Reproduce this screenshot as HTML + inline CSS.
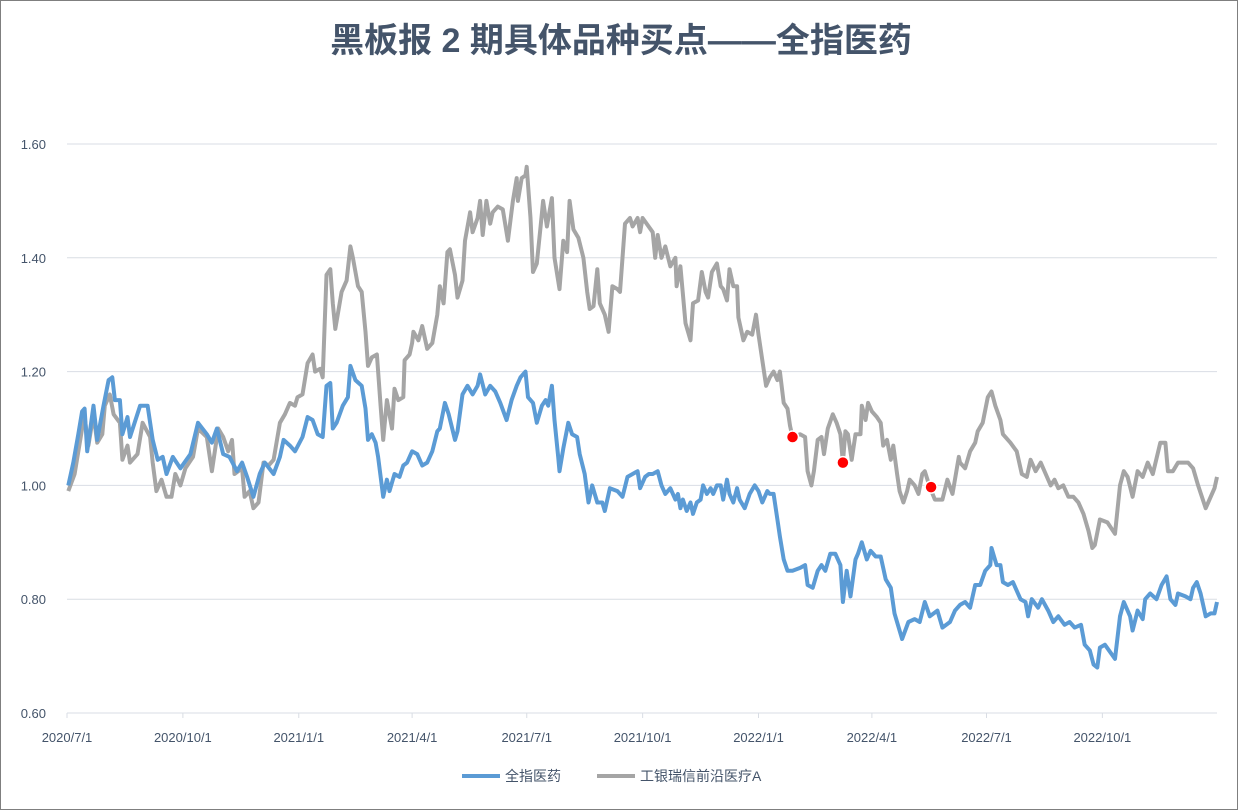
<!DOCTYPE html>
<html><head><meta charset="utf-8">
<style>
html,body{margin:0;padding:0;background:#fff;}
#wrap{position:relative;width:1238px;height:810px;overflow:hidden;}
svg text{font-family:"Liberation Sans","Noto Sans CJK SC",sans-serif;}
</style></head>
<body>
<div id="wrap">
<svg id="chart" width="1238" height="810" viewBox="0 0 1238 810">
<rect x="0.5" y="0.5" width="1237" height="809" fill="#fff" stroke="#7f7f7f" stroke-width="1"/>
<text x="621" y="52" text-anchor="middle" font-size="34" fill="#44546a" font-weight="bold">黑板报 2 期具体品种买点——全指医药</text>
<g id="grid"></g>
<g id="yaxis"></g>
<g id="xaxis"></g>
<g id="series"></g>
<g id="legend">
<line x1="462" y1="776" x2="500" y2="776" stroke="#5b9bd5" stroke-width="4"/>
<text x="505" y="781" font-size="14" fill="#44546a">全指医药</text>
<line x1="597" y1="776" x2="635" y2="776" stroke="#a5a5a5" stroke-width="4"/>
<text x="640" y="781" font-size="14" fill="#44546a">工银瑞信前沿医疗A</text>
</g>
</svg>
</div>
<script>
const yTicks=[0.6,0.8,1.0,1.2,1.4,1.6];
const yTickLabels=["0.60","0.80","1.00","1.20","1.40","1.60"];
const xTickDays=[0,92,184,274,365,457,549,639,730,822];
const xTickLabels=["2020/7/1","2020/10/1","2021/1/1","2021/4/1","2021/7/1","2021/10/1","2022/1/1","2022/4/1","2022/7/1","2022/10/1"];
const indexDays=[1,5,9,12,14,16,21,24,29,33,36,38,42,44,48,50,58,64,68,72,76,79,84,90,98,104,111,115,119,124,129,135,139,143,148,153,157,164,169,172,177,181,187,191,195,199,203,206,209,211,214,219,223,225,229,234,237,239,242,245,247,251,254,256,260,264,267,270,274,278,282,286,290,294,296,300,303,308,310,314,318,322,326,328,332,336,340,344,349,353,357,360,364,366,370,373,377,380,382,385,387,390,391,394,398,401,405,407,411,414,417,421,425,427,431,437,441,445,449,453,455,459,462,465,469,472,475,479,483,485,487,489,492,495,497,500,503,505,508,511,513,516,519,521,524,526,529,532,534,538,542,546,549,552,556,558,561,564,566,569,572,576,582,586,588,592,596,599,602,606,610,614,616,619,622,626,628,631,635,638,642,646,650,654,657,663,668,673,677,681,685,691,695,701,705,709,713,717,721,725,729,733,734,738,741,743,747,751,757,761,763,766,771,774,779,783,787,792,796,800,805,808,812,815,818,820,824,832,836,839,844,846,850,854,856,860,865,869,873,876,880,882,888,892,894,897,900,904,908,911,913];
const indexVals=[1.00,1.04,1.09,1.13,1.135,1.06,1.14,1.08,1.14,1.185,1.19,1.15,1.15,1.09,1.12,1.085,1.14,1.14,1.08,1.045,1.05,1.02,1.05,1.03,1.055,1.11,1.09,1.075,1.10,1.055,1.05,1.025,1.04,1.015,0.98,1.02,1.04,1.02,1.05,1.08,1.07,1.06,1.085,1.12,1.115,1.09,1.085,1.175,1.18,1.10,1.11,1.14,1.155,1.21,1.185,1.175,1.135,1.08,1.09,1.075,1.05,0.98,1.01,0.99,1.02,1.015,1.035,1.04,1.06,1.055,1.035,1.04,1.06,1.095,1.10,1.145,1.125,1.08,1.095,1.16,1.175,1.16,1.175,1.195,1.16,1.175,1.165,1.145,1.115,1.15,1.175,1.19,1.20,1.155,1.145,1.11,1.14,1.15,1.14,1.175,1.115,1.05,1.025,1.065,1.11,1.09,1.085,1.055,1.02,0.97,1.00,0.97,0.97,0.955,0.995,0.99,0.98,1.015,1.02,1.025,0.995,1.015,1.02,1.02,1.025,1.00,0.985,0.995,0.975,0.985,0.96,0.975,0.955,0.97,0.95,0.97,0.975,1.00,0.985,0.995,0.985,1.00,1.00,0.975,1.01,0.985,0.97,0.995,0.975,0.96,0.985,1.00,0.99,0.97,0.99,0.985,0.985,0.94,0.91,0.87,0.85,0.85,0.855,0.86,0.825,0.82,0.85,0.86,0.85,0.88,0.88,0.86,0.795,0.85,0.805,0.87,0.88,0.90,0.87,0.885,0.875,0.875,0.835,0.82,0.775,0.73,0.76,0.765,0.76,0.795,0.77,0.78,0.75,0.76,0.78,0.79,0.795,0.785,0.825,0.825,0.85,0.86,0.89,0.86,0.86,0.83,0.825,0.83,0.80,0.795,0.77,0.80,0.785,0.80,0.78,0.76,0.77,0.755,0.76,0.75,0.755,0.72,0.71,0.685,0.68,0.715,0.72,0.695,0.77,0.795,0.77,0.745,0.78,0.765,0.80,0.81,0.80,0.825,0.84,0.80,0.79,0.81,0.805,0.80,0.82,0.83,0.81,0.77,0.775,0.775,0.795];
const fundDays=[1,6,12,14,17,21,24,28,30,34,37,42,44,48,50,56,60,66,68,71,75,79,83,86,90,94,100,104,111,115,120,124,128,131,133,139,141,145,148,152,156,160,164,169,173,177,181,183,187,191,195,197,201,203,206,209,211,213,218,222,225,227,231,234,237,239,242,246,249,251,254,258,260,263,267,268,272,274,275,279,282,286,290,294,296,299,302,304,308,310,314,316,320,322,326,328,330,333,336,338,342,346,350,354,357,358,361,364,365,368,370,373,376,378,381,385,387,391,394,397,399,402,406,410,413,415,418,421,423,427,430,433,437,439,441,443,447,449,453,455,457,465,467,469,472,475,479,483,484,487,491,495,497,501,504,507,509,512,516,519,521,524,526,529,532,533,537,540,544,547,549,552,555,558,561,564,566,569,572,574,576,582,586,588,591,593,596,599,601,604,608,611,614,616,618,620,623,626,630,631,634,636,639,643,646,648,651,654,656,659,661,664,667,669,673,676,679,681,685,689,695,699,703,708,709,713,717,721,723,727,731,734,737,741,743,749,754,758,762,765,769,773,777,781,784,787,791,795,799,803,807,811,814,816,820,826,832,836,839,842,846,850,854,858,862,868,872,874,878,882,886,890,894,898,904,908,911,913];
const fundVals=[0.99,1.02,1.10,1.12,1.07,1.125,1.075,1.09,1.14,1.16,1.125,1.11,1.045,1.07,1.04,1.055,1.11,1.085,1.04,0.99,1.01,0.98,0.98,1.02,1.00,1.03,1.05,1.10,1.085,1.025,1.10,1.085,1.06,1.08,1.02,1.03,0.98,0.99,0.96,0.97,1.04,1.035,1.045,1.11,1.125,1.145,1.14,1.155,1.16,1.215,1.23,1.20,1.205,1.19,1.37,1.38,1.32,1.275,1.34,1.36,1.42,1.40,1.35,1.34,1.27,1.21,1.225,1.23,1.14,1.08,1.15,1.10,1.17,1.15,1.155,1.22,1.23,1.25,1.27,1.255,1.28,1.24,1.25,1.30,1.35,1.32,1.41,1.415,1.37,1.33,1.36,1.43,1.48,1.445,1.47,1.50,1.44,1.50,1.46,1.48,1.49,1.485,1.43,1.50,1.54,1.50,1.54,1.545,1.56,1.47,1.375,1.39,1.455,1.50,1.455,1.505,1.40,1.345,1.43,1.41,1.50,1.45,1.435,1.40,1.34,1.31,1.315,1.38,1.32,1.30,1.27,1.35,1.345,1.34,1.40,1.46,1.47,1.455,1.47,1.445,1.47,1.445,1.40,1.44,1.40,1.42,1.385,1.40,1.35,1.385,1.285,1.255,1.32,1.325,1.375,1.34,1.33,1.375,1.39,1.35,1.345,1.325,1.38,1.35,1.35,1.295,1.255,1.27,1.265,1.30,1.265,1.22,1.175,1.19,1.20,1.185,1.20,1.145,1.135,1.105,1.085,1.09,1.085,1.025,1.00,1.025,1.08,1.085,1.055,1.10,1.125,1.11,1.09,1.04,1.095,1.09,1.045,1.09,1.09,1.14,1.115,1.145,1.13,1.12,1.11,1.07,1.08,1.045,1.07,1.02,0.99,0.97,0.99,1.01,1.00,0.985,1.02,1.025,0.997,0.975,0.975,1.01,0.985,1.05,1.04,1.03,1.06,1.075,1.095,1.11,1.155,1.165,1.14,1.115,1.09,1.075,1.06,1.02,1.015,1.045,1.025,1.04,1.02,1.00,1.01,0.995,1.00,0.98,0.98,0.97,0.95,0.92,0.89,0.895,0.94,0.935,0.915,1.00,1.025,1.015,0.98,1.025,1.015,1.04,1.02,1.075,1.075,1.025,1.025,1.04,1.04,1.04,1.03,1.00,0.96,0.98,0.995,1.015];
const markerDays=[576,616,686];
const markerVals=[1.085,1.04,0.997];

const NS="http://www.w3.org/2000/svg";
const X0=67,X1=1217,TOTAL=913,Y0=713,Y1=144,VMIN=0.6,VMAX=1.6;
function xs(d){return X0+(X1-X0)*d/TOTAL;}
function ys(v){return Y0-(Y0-Y1)*(v-VMIN)/(VMAX-VMIN);}
function mk(tag,attrs,parent){const e=document.createElementNS(NS,tag);for(const k in attrs)e.setAttribute(k,attrs[k]);parent.appendChild(e);return e;}
const grid=document.getElementById('grid'),ya=document.getElementById('yaxis'),xa=document.getElementById('xaxis'),ser=document.getElementById('series');
yTicks.forEach((t,i)=>{
  const l=mk('line',{x1:X0,x2:X1,y1:ys(t),y2:ys(t),stroke:'#d9dde4','stroke-width':1},grid);
  
  
  const tx=mk('text',{x:46,y:ys(t)+5,'text-anchor':'end','font-size':13,fill:'#44546a'},ya);
  tx.textContent=yTickLabels[i];
  
  
});
xTickDays.forEach((d,i)=>{
  const tk=mk('line',{x1:xs(d),x2:xs(d),y1:Y0,y2:Y0+5,stroke:'#d9dde4','stroke-width':1},xa);
  
  
  const tx=mk('text',{x:xs(d),y:Y0+29,'text-anchor':'middle','font-size':13,fill:'#44546a'},xa);
  tx.textContent=xTickLabels[i];
  
  
});
function pathOf(days,vals){return days.map((d,i)=>(i?'L':'M')+xs(d).toFixed(1)+','+ys(vals[i]).toFixed(1)).join('');}
const pf=mk('path',{d:pathOf(fundDays,fundVals),fill:'none',stroke:'#a5a5a5','stroke-width':4,'stroke-linejoin':'round'},ser);


const pi=mk('path',{d:pathOf(indexDays,indexVals),fill:'none',stroke:'#5b9bd5','stroke-width':4,'stroke-linejoin':'round'},ser);


markerDays.forEach((d,i)=>{
  const c=mk('circle',{cx:xs(d),cy:ys(markerVals[i]),r:6,fill:'#ff0000',stroke:'#ffffff','stroke-width':1.5},ser);
  
  
});
</script>
</body></html>
